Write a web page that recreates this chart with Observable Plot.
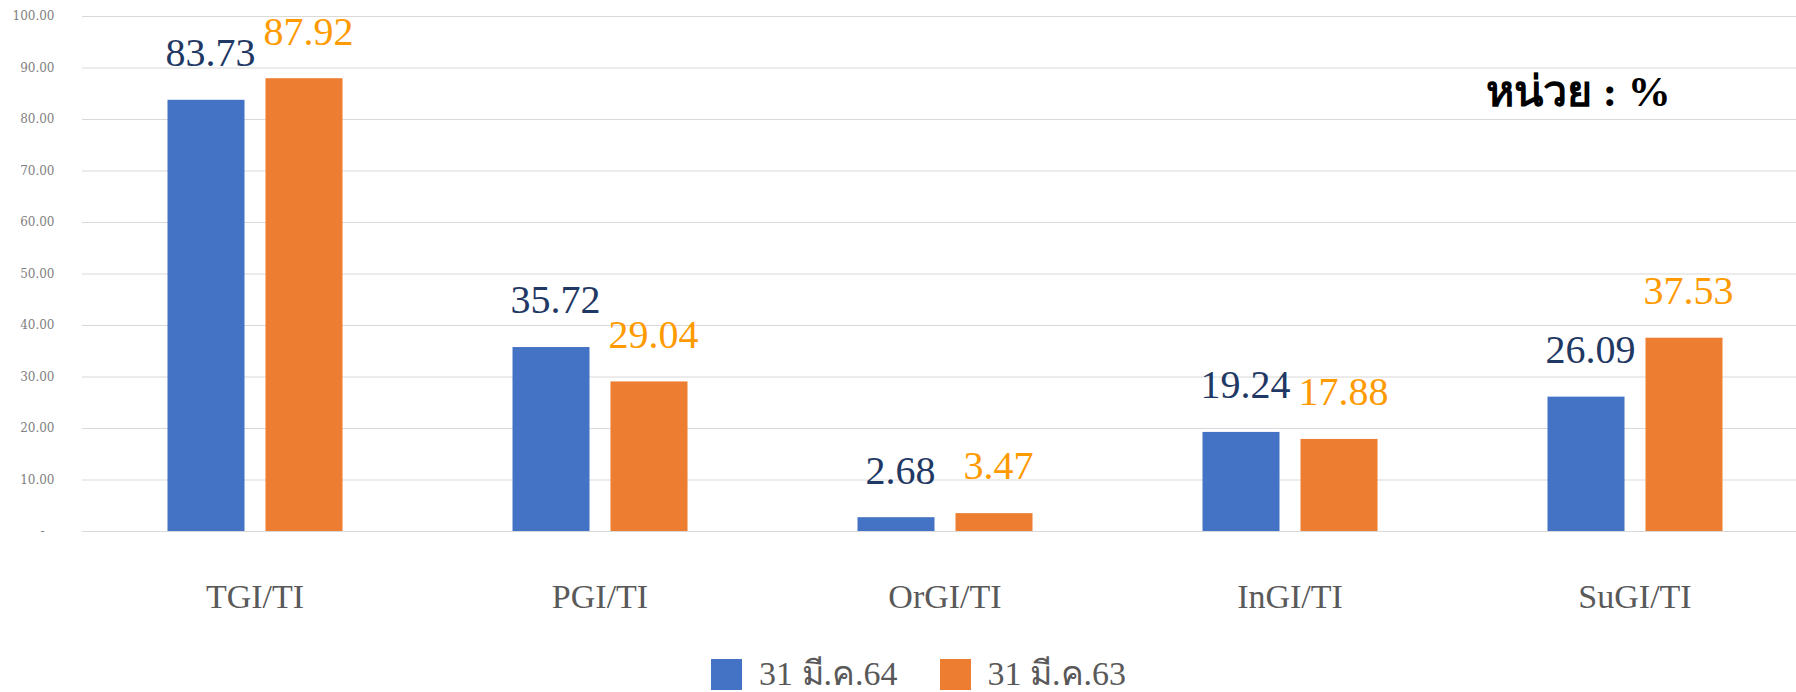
<!DOCTYPE html>
<html>
<head>
<meta charset="utf-8">
<script src="https://cdn.jsdelivr.net/npm/d3@7"></script>
<script src="https://cdn.jsdelivr.net/npm/@observablehq/plot@0.6"></script>
<style>
  html, body { margin: 0; padding: 0; background: #fff; overflow: hidden; }
  #wrap { position: relative; width: 1796px; height: 692px; overflow: hidden; }
  #unit { position: absolute; left: 1486px; top: 70px; font: bold 43px "Liberation Serif", serif; color: #000; white-space: nowrap; line-height: 1; }
  #legend { display: flex; align-items: center; height: 32px; padding-left: 711px; font: 34px "Liberation Serif", serif; color: #595959; }
  #legend .sw { width: 31px; height: 31px; margin-right: 17px; flex: none; }
  #legend .item { display: flex; align-items: center; margin-right: 42px; white-space: nowrap; }
  #legend span { line-height: 1; }
  g[aria-label^="y-axis"] text { font-family: "DejaVu Serif", serif; font-size: 12px; fill: #808080; }
  g[aria-label^="fx-axis"] text { font-family: "Liberation Serif", serif; font-size: 34px; fill: #595959; }
</style>
</head>
<body>
<div id="wrap">
  <div id="chart"></div>
  <div id="legend"></div>
  <div id="unit"></div>
</div>
<script>
const categories = ["TGI/TI", "PGI/TI", "OrGI/TI", "InGI/TI", "SuGI/TI"];
const seriesNames = ["31 มี.ค.64", "31 มี.ค.63"];
const values64 = [83.73, 35.72, 2.68, 19.24, 26.09];
const values63 = [87.92, 29.04, 3.47, 17.88, 37.53];
const yTicks = [0, 10, 20, 30, 40, 50, 60, 70, 80, 90, 100];
const barColors = ["#4472c4", "#ed7d31"];
const labelColors = ["#1f3864", "#ff9a00"];
const unitText = "หน่วย : %";

const data = [];
categories.forEach((c, i) => {
  data.push({category: c, series: seriesNames[0], value: values64[i]});
  data.push({category: c, series: seriesNames[1], value: values63[i]});
});

const fmt = d3.format(".2f");
const chart = Plot.plot({
  width: 1796,
  height: 658,
  marginTop: 16,
  marginBottom: 127,
  marginLeft: 81.5,
  marginRight: -10.5,
  style: {fontFamily: "Liberation Serif", background: "#fff"},
  fx: {domain: categories, padding: 0, label: null, axis: "bottom", tickSize: 0, tickPadding: 52},
  x: {domain: seriesNames, paddingInner: 0.2143, paddingOuter: 0.867, axis: null},
  y: {domain: [0, 100], ticks: yTicks, tickSize: 0, tickPadding: 28, label: null,
      tickFormat: d => d === 0 ? "-\u2007\u2009" : fmt(d)},
  color: {domain: seriesNames, range: barColors},
  marks: [
    Plot.ruleY(yTicks, {stroke: "#d9d9d9", strokeWidth: 1}),
    Plot.barY(data, {fx: "category", x: "series", y: "value", fill: "series"}),
    Plot.text(data.filter(d => d.series === seriesNames[0]), {
      fx: "category", x: "series", y: "value", text: d => fmt(d.value),
      fill: labelColors[0], fontSize: 40, fontFamily: "Liberation Serif", dy: -47, dx: 4
    }),
    Plot.text(data.filter(d => d.series === seriesNames[1]), {
      fx: "category", x: "series", y: "value", text: d => fmt(d.value),
      fill: labelColors[1], fontSize: 40, fontFamily: "Liberation Serif", dy: -47, dx: 4
    })
  ]
});
document.getElementById("chart").appendChild(chart);

const legend = document.getElementById("legend");
seriesNames.forEach((s, i) => {
  const item = document.createElement("div");
  item.className = "item";
  const sw = document.createElement("div");
  sw.className = "sw";
  sw.style.background = barColors[i];
  const lab = document.createElement("span");
  lab.textContent = s;
  item.appendChild(sw);
  item.appendChild(lab);
  legend.appendChild(item);
});
document.getElementById("unit").textContent = unitText;
</script>
</body>
</html>
